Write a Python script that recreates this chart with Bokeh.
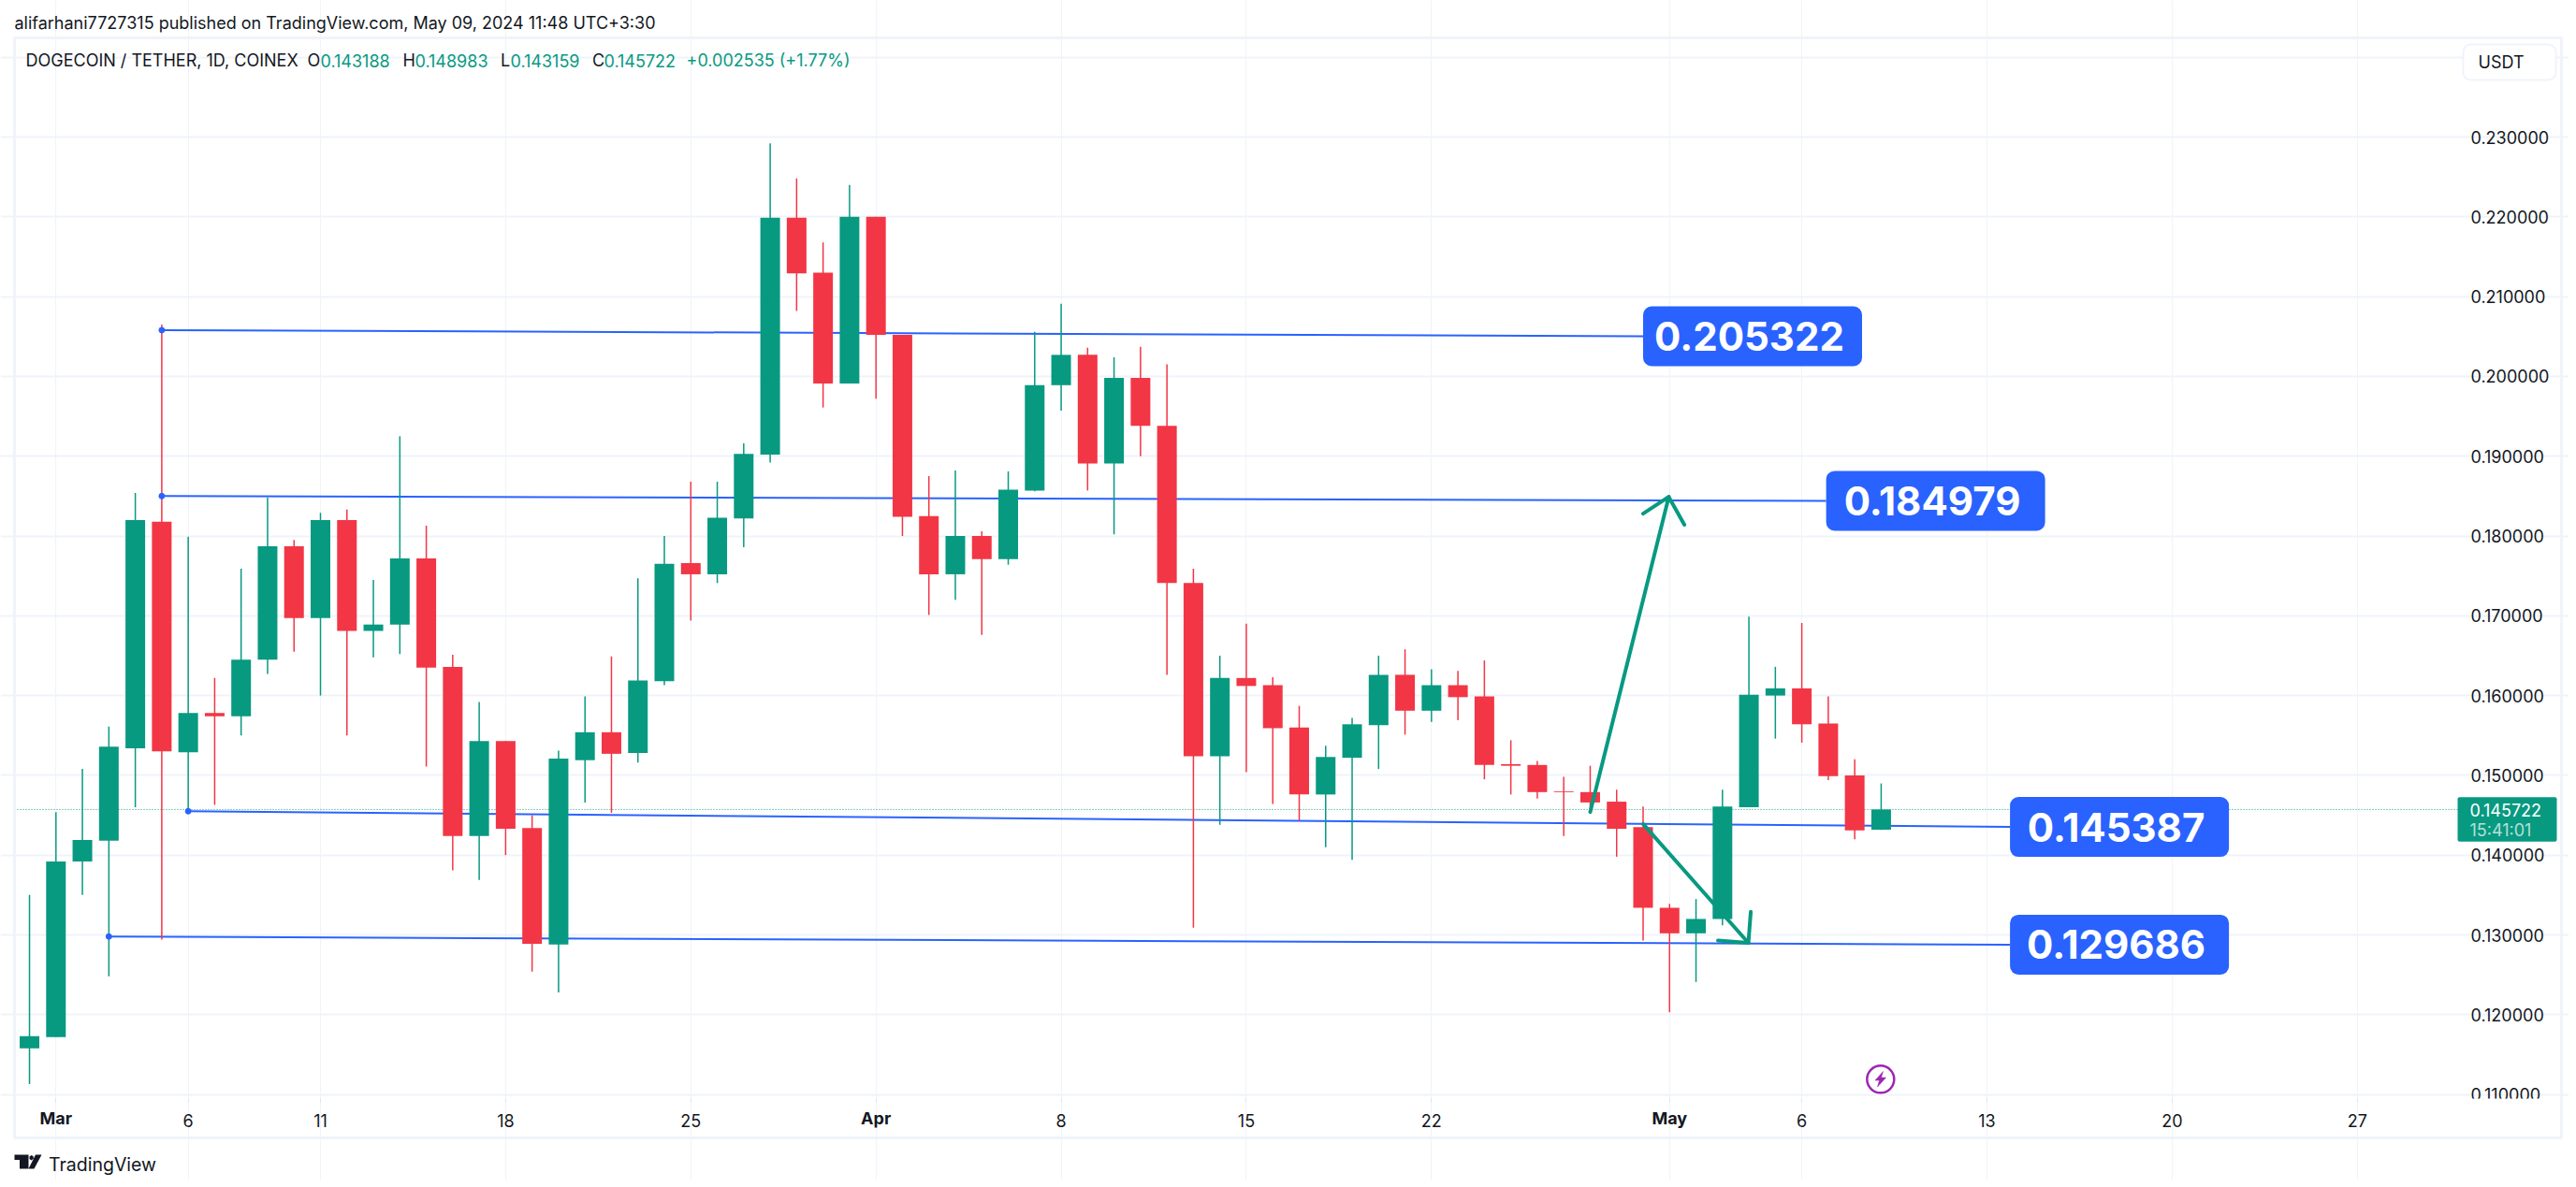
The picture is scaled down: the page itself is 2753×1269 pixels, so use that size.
from bokeh.plotting import figure
from bokeh.models import Range1d, FixedTicker, Label, BoxAnnotation, PolyAnnotation
from bokeh.core.properties import value
from bokeh.embed import file_html
from bokeh.resources import INLINE

# ---- candles: day index from 1 Mar 2024 ----
days = list(range(-1, 70))
opens = [.1158,.1172,.1392,.1418,.1534,.1818,.1529,.1578,.1574,.1645,.1787,.1697,.1820,.1681,.1689,.1772,.1636,.1424,.1543,.1434,.1288,.1519,.1554,.1528,.1618,.1766,.1752,.1822,.1902,.2199,.2130,.1991,.2200,.2052,.1825,.1752,.1800,.1771,.1857,.1989,.2027,.1891,.1998,.1938,.1741,.1524,.1622,.1613,.1560,.1476,.1522,.1563,.1626,.1581,.1613,.1599,.1514,.1513,.1480,.1479,.1467,.1435,.1334,.1302,.1320,.1460,.1600,.1609,.1565,.1500,.143188]
highs = [.1350,.1454,.1508,.1561,.1854,.2065,.1799,.1622,.1759,.1848,.1795,.1829,.1833,.1745,.1925,.1813,.1651,.1592,.1543,.1450,.1531,.1599,.1649,.1747,.1800,.1868,.1868,.1916,.2292,.2248,.2168,.2240,.2200,.2052,.1875,.1882,.1806,.1881,.2056,.2091,.2036,.2024,.2037,.2015,.1759,.1650,.1690,.1623,.1587,.1537,.1572,.1650,.1658,.1633,.1631,.1644,.1544,.1518,.1498,.1512,.1482,.1461,.1339,.1345,.1482,.1699,.1636,.1691,.1599,.1520,.148983]
lows = [.1113,.1172,.1350,.1248,.1460,.1294,.1454,.1463,.1550,.1627,.1655,.1600,.1550,.1648,.1652,.1511,.1381,.1369,.1400,.1254,.1228,.1466,.1453,.1516,.1613,.1694,.1741,.1786,.1892,.2082,.1961,.1991,.1972,.1800,.1701,.1720,.1676,.1764,.1856,.1957,.1857,.1802,.1900,.1626,.1309,.1438,.1504,.1464,.1443,.1410,.1394,.1508,.1551,.1567,.1569,.1495,.1476,.1471,.1424,.1455,.1398,.1293,.1203,.1241,.1312,.1460,.1546,.1541,.1494,.1420,.143159]
closes = [.1173,.1392,.1419,.1536,.1820,.1530,.1578,.1574,.1645,.1787,.1697,.1820,.1681,.1689,.1772,.1635,.1424,.1543,.1433,.1289,.1521,.1554,.1527,.1619,.1765,.1752,.1823,.1903,.2199,.2129,.1991,.2200,.2052,.1824,.1752,.1800,.1771,.1858,.1989,.2027,.1891,.1998,.1938,.1741,.1524,.1622,.1612,.1559,.1476,.1523,.1564,.1626,.1581,.1613,.1598,.1513,.1512,.1479,.1479,.1466,.1433,.1334,.1302,.1320,.1461,.1601,.1609,.1564,.1499,.1431,.145722]

last_price = 0.145722

# ---- drawn levels ----
line_start_day = [4, 4, 5, 2]
line_start_price = [.2058, .1850, .1455, .1298]
line_end_day = [60.0, 66.92, 73.87, 73.87]
line_end_price = [.20503, .1844, .14353, .12878]
line_labels = ["0.205322", "0.184979", "0.145387", "0.129686"]

# ---- drawn arrows (day, price) ----
arrow_up_day = [58.0, 60.97]
arrow_up_price = [.1454, .1849]
arrow_up_head_day = [60.0, 60.97, 61.56]
arrow_up_head_price = [.1828, .1849, .1814]
arrow_dn_day = [60.0, 63.98]
arrow_dn_price = [.1439, .1290]
arrow_dn_head_day = [62.83, 63.98, 64.07]
arrow_dn_head_price = [.1293, .1290, .1329]

# ---- axes ----
x_ticks = [0, 5, 10, 17, 24, 31, 38, 45, 52, 61, 66, 73, 80, 87]
x_labels = ["Mar", "6", "11", "18", "25", "Apr", "8", "15", "22", "May", "6", "13", "20", "27"]
month_ticks = ["Mar", "Apr", "May"]
y_ticks = [.11, .12, .13, .14, .15, .16, .17, .18, .19, .20, .21, .22, .23]
y_grid_ticks = y_ticks + [.24]

# ---- texts ----
title_text = "alifarhani7727315 published on TradingView.com, May 09, 2024 11:48 UTC+3:30"
symbol_text = "DOGECOIN / TETHER, 1D, COINEX"
ohlc_heads = ["O", "H", "L", "C"]
ohlc_vals = ["0.143188", "0.148983", "0.143159", "0.145722"]
change_text = "+0.002535 (+1.77%)"

GREEN = "#089981"; RED = "#f23645"; BLUE = "#2962ff"; INK = "#131722"; PALE = "#f0f3fa"
FONT = "Inter"

# pixel <-> data helpers (page pixels)
X0, DX = 59.3, 28.27
Y0, DY = 146.0, 8530.0
def dx(px): return (px - X0) / DX
def dy(py): return 0.23 - (py - Y0) / DY

W, H = 2745, 1261
p = figure(width=W, height=H, output_backend="svg", toolbar_location=None,
           x_range=Range1d(dx(0), dx(W)), y_range=Range1d(dy(H), dy(0)),
           x_axis_location="below", y_axis_location="right",
           min_border_left=0, min_border_right=0, min_border_top=0, min_border_bottom=0,
           background_fill_color="white", border_fill_color="white")
p.outline_line_color = None

xa = p.xaxis[0]
xa.fixed_location = dy(1174)
xa.ticker = FixedTicker(ticks=x_ticks)
xa.major_label_overrides = {t: ("" if l in month_ticks else l) for t, l in zip(x_ticks, x_labels)}
xa.axis_line_color = None
xa.major_tick_line_color = "#e0e3eb"
xa.major_tick_out = 4; xa.major_tick_in = 0
xa.minor_tick_line_color = None
xa.major_label_text_font = FONT
xa.major_label_text_font_size = "18px"
xa.major_label_text_color = INK
xa.major_label_standoff = 12

ya = p.yaxis[0]
ya.fixed_location = dx(2626)
ya.ticker = FixedTicker(ticks=y_ticks)
ya.major_label_overrides = {t: f"{t:.6f}" for t in y_ticks}
ya.axis_line_color = None
ya.major_tick_line_color = None
ya.minor_tick_line_color = None
ya.major_label_text_font = FONT
ya.major_label_text_font_size = "18px"
ya.major_label_text_color = INK
ya.major_label_standoff = 8

p.xgrid[0].ticker = FixedTicker(ticks=x_ticks)
p.xgrid[0].bounds = (dy(1174), dy(40))
p.xgrid[0].grid_line_color = PALE
p.xgrid[0].grid_line_width = 1
p.ygrid[0].ticker = FixedTicker(ticks=y_grid_ticks)
p.ygrid[0].bounds = (dx(15), dx(2626))
p.ygrid[0].grid_line_color = PALE
p.ygrid[0].grid_line_width = 2

# current price dotted
p.segment(x0=[dx(15)], x1=[dx(2626)], y0=[last_price], y1=[last_price],
          line_color=GREEN, line_width=1, line_dash="1 2")

# level lines
p.segment(x0=line_start_day, y0=line_start_price, x1=line_end_day, y1=line_end_price,
          line_color=BLUE, line_width=2)

# candles
colors = [GREEN if c >= o else RED for o, c in zip(opens, closes)]
p.segment(x0=days, x1=days, y0=lows, y1=highs, line_color=colors, line_width=1.5)
p.vbar(x=days, width=21 / DX, top=[max(o, c) for o, c in zip(opens, closes)],
       bottom=[min(o, c) for o, c in zip(opens, closes)], fill_color=colors, line_color=colors, line_width=0)

# level anchors
p.scatter(x=line_start_day, y=line_start_price, size=6, fill_color=BLUE, line_color=BLUE, marker="circle")

# arrows
for xs, ys in [(arrow_up_day, arrow_up_price), (arrow_up_head_day, arrow_up_head_price),
               (arrow_dn_day, arrow_dn_price), (arrow_dn_head_day, arrow_dn_head_price)]:
    p.line(xs, ys, line_color=GREEN, line_width=4, line_cap="round", line_join="round")

# callouts
BOX_W = 234 / DX; BOX_H = 64 / DY
p.quad(left=line_end_day, right=[d + BOX_W for d in line_end_day],
       top=[v + BOX_H / 2 for v in line_end_price], bottom=[v - BOX_H / 2 for v in line_end_price],
       fill_color=BLUE, line_color=BLUE, line_width=0, border_radius=9)
p.text(x=[d + (BOX_W - 7 / DX) / 2 for d in line_end_day], y=line_end_price, text=line_labels,
       text_font=value(FONT), text_font_style="bold", text_font_size="42px", text_color="white",
       text_align="center", text_baseline="middle")

# bolt mark
p.scatter(x=[dx(2009.3)], y=[dy(1153.3)], size=29, marker="circle", fill_color="white", line_color="#9c27b0", line_width=2.5)
p.patch([dx(v) for v in (2012, 2003.5, 2008, 2006, 2015, 2010)],
        [dy(v) for v in (1145, 1154.5, 1154.5, 1161.5, 1151.5, 1151.5)], fill_color="#9c27b0", line_color="#9c27b0", line_width=0.5)

# ---- overlay boxes (canvas pixels) ----
def box(l, r, t, b, **kw):
    kw.setdefault("fill_alpha", 1)
    p.add_layout(BoxAnnotation(left=l, right=r, top=t, bottom=b, left_units="canvas", right_units="canvas",
                               top_units="canvas", bottom_units="canvas", level="annotation", line_alpha=1, **kw))
box(2627, 2736, 1174, 1214, fill_color="white", line_color=None)
box(15, 2737, 40, 1216, fill_alpha=0, line_color=PALE, line_width=3)
box(2626, 2732, 851.8, 899.3, fill_color=GREEN, line_color=None, border_radius=2)
box(2632, 2731, 47, 85, fill_color="white", line_color=PALE, line_width=2, border_radius=8)

def lab(txt, px, py, color=INK, size=18, style="normal", align="left"):
    p.add_layout(Label(x=px, y=py, x_units="canvas", y_units="canvas", text=txt, text_color=color, text_font=FONT,
                       text_font_size=f"{size}px", text_font_style=style, text_align=align,
                       text_baseline="middle", level="annotation"))

lab(title_text, 15, 24)
lab(symbol_text, 27, 64)
for t, v, hx, vx in zip(ohlc_heads, ohlc_vals, (328, 430, 534.5, 632.6), (342, 443, 545, 645)):
    lab(t, hx, 64)
    lab(v, vx, 64, color=GREEN)
lab(change_text, 733, 64, color=GREEN)
lab("USDT", 2648, 65.5)
lab(f"{last_price:.6f}", 2639, 865, color="white")
lab("15:41:01", 2639, 887, color="#b5e0d8")
for t, l in zip(x_ticks, x_labels):
    if l in month_ticks:
        lab(l, X0 + t * DX, 1195, style="bold", align="center")
lab("TradingView", 51.5, 1244, size=19.5)

# logo
def poly(xs, ys):
    p.add_layout(PolyAnnotation(xs=list(xs), ys=list(ys), xs_units="canvas", ys_units="canvas",
                                fill_color=INK, fill_alpha=1, line_color=None, line_alpha=1, level="annotation"))
poly((15, 30, 30, 20.5, 20.5, 15), (1234, 1234, 1249, 1249, 1239.5, 1239.5))
poly((37.5, 44, 36, 30), (1234, 1234, 1249, 1249))
poly((31, 33, 35, 35.5, 33, 31), (1236, 1234.5, 1235.5, 1238, 1240, 1238.5))

open("out.html", "w").write(file_html(p, INLINE))
